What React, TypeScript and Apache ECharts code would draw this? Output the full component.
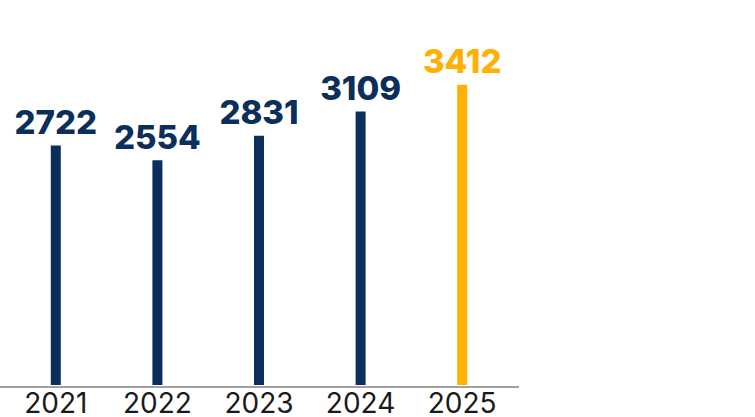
import { useEffect, useRef } from "react";
import * as echarts from "echarts";

const years = ["2021", "2022", "2023", "2024", "2025"];
const totals = [2722, 2554, 2831, 3109, 3412];
const navy = "#0b2f5a";
const gold = "#ffb000";

export default function App() {
  const chartRef = useRef<HTMLDivElement | null>(null);

  useEffect(() => {
    if (!chartRef.current) return;
    const chart = echarts.init(chartRef.current, null, { renderer: "svg" });

    chart.setOption({
      animation: false,
      grid: { left: 5, right: 242, top: 33, bottom: 30 },
      xAxis: {
        type: "category",
        data: years,
        axisLine: { show: false },
        axisTick: { show: false },
        axisLabel: {
          fontFamily: "Inter",
          fontSize: 28,
          color: "#1a1a1a",
          margin: 4,
        },
      },
      yAxis: {
        type: "value",
        min: 0,
        max: 4000,
        show: false,
      },
      graphic: [
        {
          type: "line",
          shape: { x1: 0, y1: 387, x2: 519, y2: 387 },
          style: { stroke: "#808080", lineWidth: 1.5 },
          z: 10,
        },
      ],
      series: [
        {
          type: "bar",
          barWidth: 10,
          data: totals.map((v, i) => ({
            value: v,
            itemStyle: { color: i === totals.length - 1 ? gold : navy },
            label: { color: i === totals.length - 1 ? gold : navy },
          })),
          label: {
            show: true,
            position: "top",
            distance: 7,
            fontFamily: "Inter",
            fontWeight: 800,
            fontSize: 33,
          },
        },
      ],
    });

    return () => {
      chart.dispose();
    };
  }, []);

  return (
    <div
      ref={chartRef}
      style={{ position: "absolute", left: 0, top: 0, width: 755, height: 417, background: "#fff" }}
    />
  );
}
